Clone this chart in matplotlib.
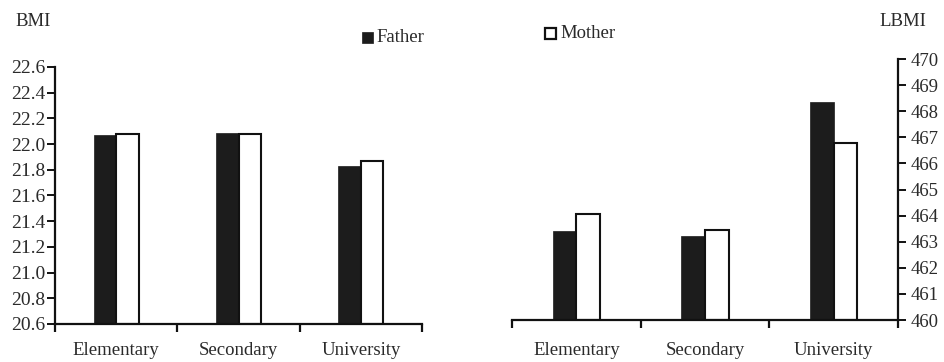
import matplotlib
matplotlib.use("Agg")
import matplotlib.pyplot as plt
import numpy as np
from matplotlib.patches import Rectangle

categories = ["Elementary", "Secondary", "University"]
bmi_father = [22.07, 22.09, 21.83]
bmi_mother = [22.08, 22.075, 21.87]
lbmi_father = [463.4, 463.2, 468.35]
lbmi_mother = [464.05, 463.45, 466.8]
bmi_ticks = [20.6, 20.8, 21.0, 21.2, 21.4, 21.6, 21.8, 22.0, 22.2, 22.4, 22.6]
lbmi_ticks = list(range(460, 471))

plt.rcParams['font.family'] = ['Liberation Serif', 'DejaVu Serif']
TXT = '#2a2a2a'
DARK = '#1c1c1c'

fig = plt.figure(figsize=(9.44, 3.62), dpi=100)
axL = fig.add_axes([0.0583, 0.105, 0.3887, 0.710])
axR = fig.add_axes([0.5424, 0.116, 0.4089, 0.721])

x = np.arange(len(categories))
bw = 0.185

def style(ax, side):
    for s in ['top', 'right', 'left', 'bottom']:
        ax.spines[s].set_visible(False)
    ax.spines['bottom'].set_visible(True)
    ax.spines[side].set_visible(True)
    ax.spines['bottom'].set_linewidth(1.6)
    ax.spines[side].set_linewidth(1.6)
    ax.spines['bottom'].set_color('#111111')
    ax.spines[side].set_color('#111111')
    ax.set_xlim(-0.5, 2.5)
    ax.set_xticks(x)
    ax.set_xticklabels(categories)
    ax.set_xticks([-0.5, 0.5, 1.5, 2.5], minor=True)
    ax.tick_params(axis='x', which='major', length=0, pad=13, labelsize=13.5, labelcolor=TXT)
    ax.tick_params(axis='x', which='minor', length=6, width=1.6, direction='out', color='#111111')
    ax.tick_params(axis='y', length=6, width=1.4, direction='out', labelsize=14,
                   labelcolor=TXT, color='#111111', pad=1)

# Left panel
axL.bar(x - bw/2, [v - 20.6 for v in bmi_father], bw, bottom=20.6, color=DARK, edgecolor=DARK, linewidth=0.5)
axL.bar(x + bw/2, [v - 20.6 for v in bmi_mother], bw, bottom=20.6, color='white', edgecolor='#111111', linewidth=1.5)
axL.set_ylim(20.6, 22.6)
axL.set_yticks(bmi_ticks)
axL.set_yticklabels([f"{t:.1f}" for t in bmi_ticks])
style(axL, 'left')

# Right panel
axR.bar(x - bw/2, [v - 460 for v in lbmi_father], bw, bottom=460, color=DARK, edgecolor=DARK, linewidth=0.5)
axR.bar(x + bw/2, [v - 460 for v in lbmi_mother], bw, bottom=460, color='white', edgecolor='#111111', linewidth=1.5)
axR.set_ylim(460, 470)
axR.set_yticks(lbmi_ticks)
axR.yaxis.tick_right()
style(axR, 'right')
axR.tick_params(axis='y', labelsize=13.5, pad=3)
axR.tick_params(axis='x', pad=16)

# Axis titles
fig.text(15/944, 1 - 22/362, "BMI", fontsize=13.5, color=TXT, va='center', ha='left')
fig.text(926/944, 1 - 22/362, "LBMI", fontsize=13.5, color=TXT, va='center', ha='right')

# Legend entries
fig.patches.append(Rectangle((362/944, 1 - 43/362), 11/944, 11/362, transform=fig.transFigure,
                             facecolor=DARK, edgecolor=DARK, lw=0.5))
fig.text(376/944, 1 - 38/362, "Father", fontsize=13.5, color=TXT, va='center', ha='left')
fig.patches.append(Rectangle((545/944, 1 - 39/362), 11/944, 11/362, transform=fig.transFigure,
                             facecolor='white', edgecolor='#111111', lw=1.6))
fig.text(560/944, 1 - 34/362, "Mother", fontsize=13.5, color=TXT, va='center', ha='left')

fig.savefig("out.png", dpi=100)
